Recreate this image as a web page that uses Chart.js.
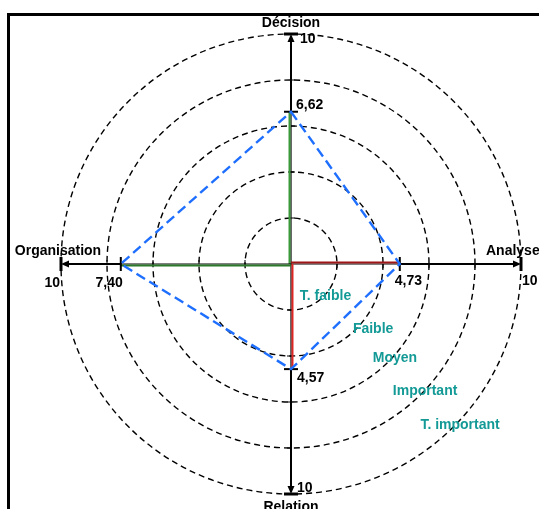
<!DOCTYPE html>
<html>
<head>
<meta charset="utf-8">
<script src="https://cdn.jsdelivr.net/npm/chart.js@4.4.0/dist/chart.umd.min.js"></script>
<style>
    body { margin: 0; background: #fff; }
    #wrap { position: relative; width: 539px; height: 509px; overflow: hidden; }
    #frame { position: absolute; left: 7px; top: 13px; width: 600px; height: 600px; border-top: 3px solid #000; border-left: 3px solid #000; }
    canvas { position: absolute; left: 0; top: 0; }
</style>
</head>
<body>
<div id="wrap">
    <div id="frame"></div>
    <canvas id="chart" width="539" height="509"></canvas>
</div>
<script>
const axes = ['Décision', 'Analyse', 'Relation', 'Organisation'];
const scores = [6.62, 4.73, 4.57, 7.40];
const scoreLabels = ['6,62', '4,73', '4,57', '7,40'];
const maxScore = 10;
const ringValues = [2, 4, 6, 8];
const levels = ['T. faible', 'Faible', 'Moyen', 'Important', 'T. important'];

const axisColors = ['#3a9a3a', '#a01515', '#e02525', '#2a7a2a'];
const teal = '#139a96';
const font = 'bold 14px "Liberation Sans", Arial, sans-serif';

// text placement, pixel offsets from the axis points
const nameSpots = [[0, -7, 'center'], [-35, -9, 'left'], [0, 17, 'center'], [-3, -9, 'center']];
const maxSpots = [[9, 9, 'left'], [1, 21, 'left'], [6, -2, 'left'], [-1, 23, 'right']];
const scoreSpots = [[5, -3, 'left'], [-5, 21, 'left'], [6, 13, 'left'], [2, 23, 'right']];
// level labels, in scale units from the centre (x, baseline)
const levelSpots = [[1.50, 1.57], [3.57, 3.0], [4.52, 4.26], [5.83, 5.70], [7.35, 7.17]];

function line(ctx, x1, y1, x2, y2) {
    ctx.beginPath();
    ctx.moveTo(x1, y1);
    ctx.lineTo(x2, y2);
    ctx.stroke();
}

const axisPlugin = {
    id: 'axisPlugin',
    beforeDatasetsDraw(chart) {
        const s = chart.scales.r;
        const ctx = chart.ctx;
        ctx.save();
        axes.forEach((name, i) => {
            const c = s.getPointPositionForValue(i, 0);
            const v = s.getPointPositionForValue(i, scores[i]);
            const e = s.getPointPositionForValue(i, maxScore);
            const ux = Math.cos(v.angle), uy = Math.sin(v.angle);
            const px = -uy, py = ux;

            // full axis
            ctx.strokeStyle = '#000';
            ctx.lineWidth = 1.2;
            line(ctx, c.x, c.y, e.x - ux * 5, e.y - uy * 5);

            // coloured part up to the score
            ctx.strokeStyle = axisColors[i];
            ctx.lineWidth = 2;
            line(ctx, c.x - px * 1.5, c.y - py * 1.5, v.x - px * 1.5, v.y - py * 1.5);

            // small ticks on the rings
            ctx.strokeStyle = '#000';
            ctx.lineWidth = 1;
            ringValues.forEach(r => {
                const t = s.getPointPositionForValue(i, r);
                line(ctx, t.x, t.y, t.x + px * 4, t.y + py * 4);
            });

            // stretch from score to max
            ctx.lineWidth = 2;
            line(ctx, v.x, v.y, e.x - ux * 5, e.y - uy * 5);

            // bars
            ctx.lineWidth = 2;
            line(ctx, v.x - px * 7, v.y - py * 7, v.x + px * 7, v.y + py * 7);
            ctx.lineWidth = 3;
            line(ctx, e.x - px * 7, e.y - py * 7, e.x + px * 7, e.y + py * 7);

            // arrow head
            ctx.fillStyle = '#000';
            ctx.beginPath();
            ctx.moveTo(e.x, e.y);
            ctx.lineTo(e.x - ux * 8 + px * 3.5, e.y - uy * 8 + py * 3.5);
            ctx.lineTo(e.x - ux * 8 - px * 3.5, e.y - uy * 8 - py * 3.5);
            ctx.closePath();
            ctx.fill();
        });
        ctx.restore();
    },
    afterDraw(chart) {
        const s = chart.scales.r;
        const ctx = chart.ctx;
        ctx.save();
        ctx.font = font;
        ctx.textBaseline = 'alphabetic';
        ctx.fillStyle = '#000';
        axes.forEach((name, i) => {
            const v = s.getPointPositionForValue(i, scores[i]);
            const e = s.getPointPositionForValue(i, maxScore);
            ctx.textAlign = nameSpots[i][2];
            ctx.fillText(name, e.x + nameSpots[i][0], e.y + nameSpots[i][1]);
            ctx.textAlign = maxSpots[i][2];
            ctx.fillText(String(maxScore), e.x + maxSpots[i][0], e.y + maxSpots[i][1]);
            ctx.textAlign = scoreSpots[i][2];
            ctx.fillText(scoreLabels[i], v.x + scoreSpots[i][0], v.y + scoreSpots[i][1]);
        });

        const unit = s.getDistanceFromCenterForValue(1);
        ctx.fillStyle = teal;
        ctx.textAlign = 'center';
        levels.forEach((lvl, k) => {
            ctx.fillText(lvl, s.xCenter + levelSpots[k][0] * unit, s.yCenter + levelSpots[k][1] * unit);
        });
        ctx.restore();
    }
};

new Chart(document.getElementById('chart').getContext('2d'), {
    type: 'radar',
    data: {
        labels: axes,
        datasets: [{
            data: scores,
            borderColor: '#1f6fff',
            borderWidth: 2.4,
            borderDash: [10, 5],
            fill: false,
            pointRadius: 0,
            tension: 0
        }]
    },
    options: {
        responsive: false,
        animation: false,
        layout: { padding: { left: 61, right: 18, top: 34, bottom: 15 } },
        plugins: {
            legend: { display: false },
            tooltip: { enabled: false }
        },
        scales: {
            r: {
                min: 0,
                max: maxScore,
                ticks: { display: false, stepSize: 2 },
                pointLabels: { display: false },
                angleLines: { display: false },
                grid: { circular: true, color: '#000', lineWidth: 1.4 },
                border: { dash: [6, 4] }
            }
        }
    },
    plugins: [axisPlugin]
});
</script>
</body>
</html>
